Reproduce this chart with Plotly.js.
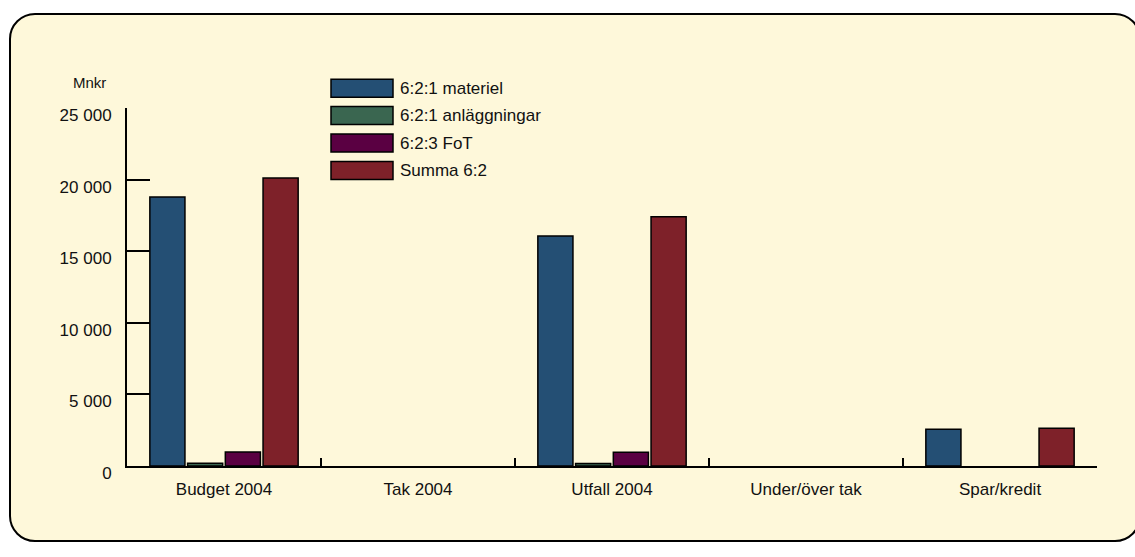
<!DOCTYPE html>
<html>
<head>
<meta charset="utf-8">
<script src="https://cdn.plot.ly/plotly-3.0.1.min.js"></script>
<style>
  html, body { margin: 0; padding: 0; background: #ffffff; overflow: hidden; }
  #wrap { position: relative; width: 1135px; height: 557px; overflow: hidden; background: #ffffff; }
  #frame { position: absolute; left: 9px; top: 13px; width: 1132px; height: 529px; box-sizing: border-box;
           border: 2px solid #000; border-radius: 26px; background: rgb(254,248,218); }
  #chart { position: absolute; left: 0; top: 0; width: 1135px; height: 557px; }
</style>
</head>
<body>
<div id="wrap">
  <div id="frame"></div>
  <div id="chart"></div>
</div>
<script>
const categories = ['Budget 2004', 'Tak 2004', 'Utfall 2004', 'Under/över tak', 'Spar/kredit'];
const materiel     = [18780, null, 16070, null, 2560];
const anlaggningar = [190, null, 170, null, null];
const fot          = [980, null, 960, null, null];
const summa        = [20110, null, 17410, null, 2630];
const seriesNames  = ['6:2:1 materiel', '6:2:1 anläggningar', '6:2:3 FoT', 'Summa 6:2'];
const seriesColors = ['#244f74', '#3a6650', '#5a0042', '#7e2129'];
const yTicks = [0, 5000, 10000, 15000, 20000, 25000];
const yUnit = 'Mnkr';

const FONT = '"Liberation Sans", Arial, sans-serif';
const seriesValues = [materiel, anlaggningar, fot, summa];

const traces = seriesValues.map((vals, i) => ({
  type: 'bar',
  name: seriesNames[i],
  x: categories,
  y: vals,
  marker: { color: seriesColors[i], line: { color: '#000', width: 1.5 } },
  showlegend: false,
  hoverinfo: 'x+y+name'
}));

// plot area in pixels
const L = 127, R = 1097, T = 108.3, B = 466;
const W = 1135, H = 557;
const px2x = p => (p - L) / (R - L);
const px2y = p => (B - p) / (B - T);

const shapes = [];
const annotations = [];
seriesNames.forEach((name, i) => {
  const top = 79.5 + 27.4 * i;
  shapes.push({
    type: 'rect', xref: 'paper', yref: 'paper',
    x0: px2x(331), x1: px2x(393), y0: px2y(top), y1: px2y(top + 18),
    fillcolor: seriesColors[i], line: { color: '#000', width: 1.5 }
  });
  annotations.push({
    xref: 'paper', yref: 'paper', x: px2x(398), y: px2y(top + 9),
    xanchor: 'left', yanchor: 'middle', text: name, showarrow: false,
    font: { family: FONT, size: 17, color: '#111' }
  });
});
annotations.push({
  xref: 'paper', yref: 'paper', x: px2x(89), y: px2y(83),
  xanchor: 'center', yanchor: 'middle', text: yUnit, showarrow: false,
  font: { family: FONT, size: 15, color: '#111' }
});

const layout = {
  width: W, height: H,
  margin: { l: L, r: W - R, t: T, b: H - B, pad: 0 },
  paper_bgcolor: 'rgba(0,0,0,0)',
  plot_bgcolor: 'rgba(0,0,0,0)',
  separators: ', ',
  font: { family: FONT, size: 17, color: '#111' },
  barmode: 'group',
  bargap: 0.222,
  bargroupgap: 0.07,
  xaxis: {
    type: 'category',
    showgrid: false, zeroline: false,
    showline: true, linecolor: '#000', linewidth: 2,
    ticks: 'inside', tickson: 'boundaries', ticklen: 8, tickwidth: 2, tickcolor: '#000',
    ticklabelstandoff: 7,
    tickfont: { family: FONT, size: 17, color: '#111' }
  },
  yaxis: {
    range: [0, 25000],
    tickvals: yTicks,
    tickformat: ',d',
    showgrid: false, zeroline: false,
    showline: true, linecolor: '#000', linewidth: 2,
    ticks: 'inside', ticklen: 23, tickwidth: 2, tickcolor: '#000',
    ticklabelstandoff: 10,
    ticklabelshift: 7,
    tickfont: { family: FONT, size: 17, color: '#111' }
  },
  shapes: shapes,
  annotations: annotations
};

Plotly.newPlot('chart', traces, layout, { displayModeBar: false, staticPlot: true });
</script>
</body>
</html>
